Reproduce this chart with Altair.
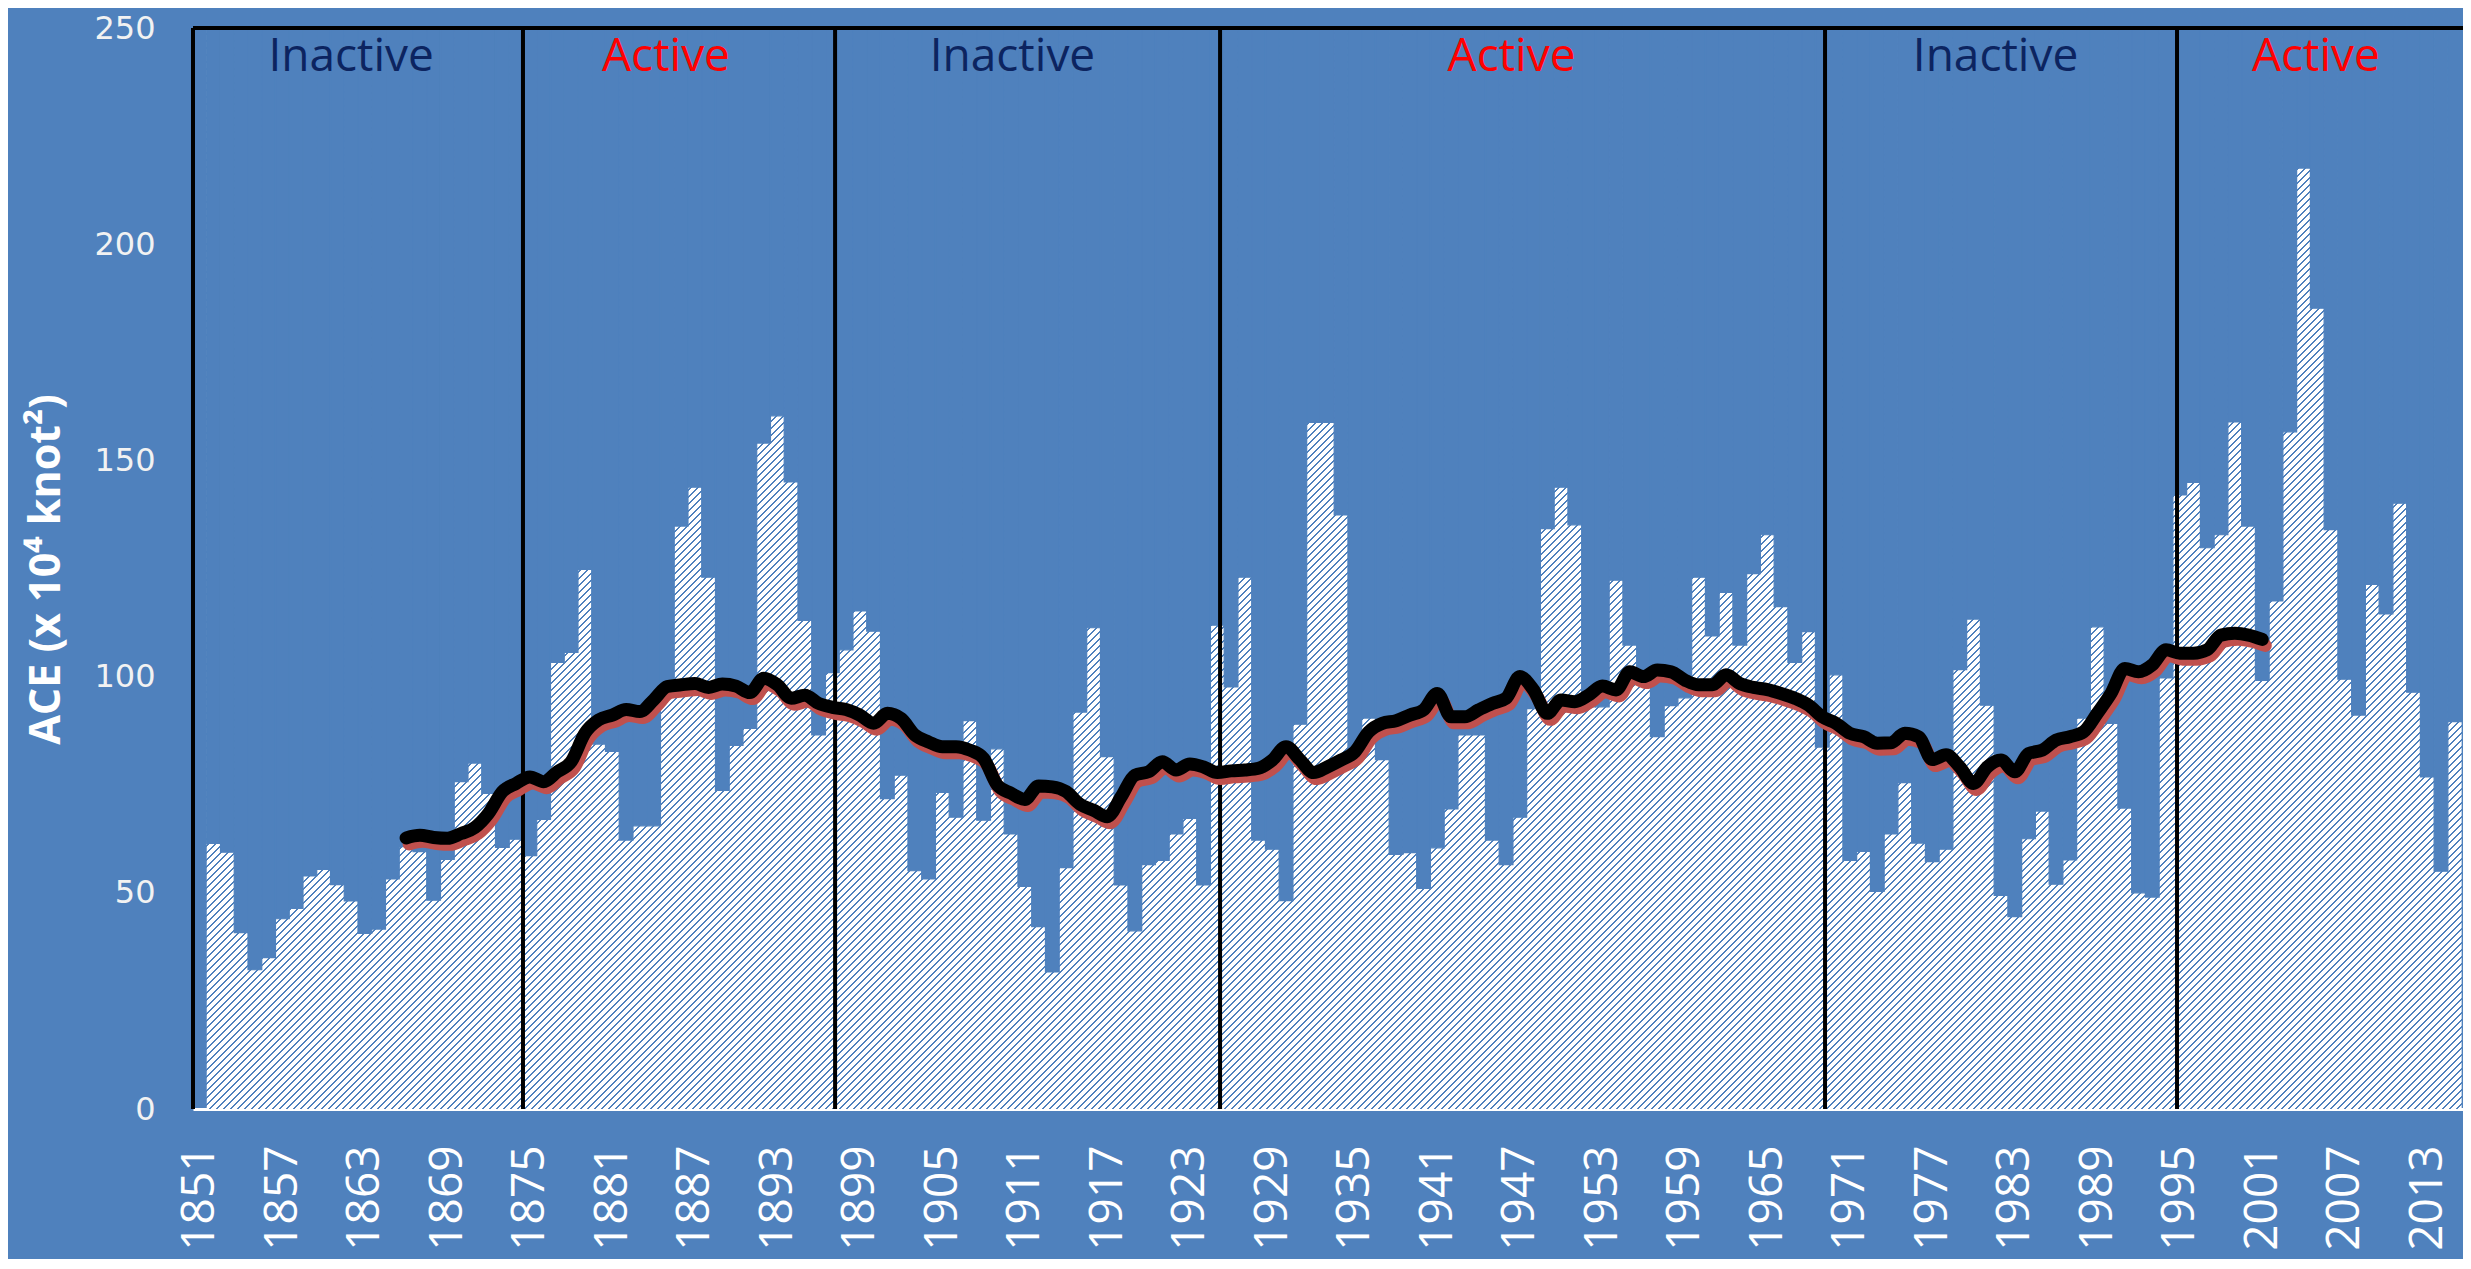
import math
import altair as alt
import pandas as pd

# ---------------- data ----------------
years = list(range(1851, 2016))
# 3-year running ACE (bars); 1851 has no bar
ace_3yr = [
    None, 61.4, 59.4, 40.8, 32.2, 35.0, 44.0, 46.4, 53.9, 55.4,      # 1851-1860
    51.9, 48.1, 40.6, 41.6, 53.2, 60.7, 59.5, 48.3, 57.7, 75.7,      # 1861-1870
    80.0, 73.0, 60.5, 62.4, 58.6, 67.0, 103.3, 105.6, 124.8, 84.4,   # 1871-1880
    82.7, 62.2, 65.5, 65.5, 96.0, 134.8, 143.8, 123.0, 73.7, 84.1,   # 1881-1890
    88.0, 154.0, 160.3, 145.0, 113.0, 86.5, 100.9, 106.2, 115.2, 110.5,  # 1891-1900
    71.8, 77.2, 55.1, 53.2, 73.2, 67.5, 89.8, 66.8, 83.3, 63.6,      # 1901-1910
    51.5, 42.2, 31.7, 55.8, 91.8, 111.3, 81.5, 51.8, 41.2, 56.5,     # 1911-1920
    57.5, 63.6, 67.2, 51.8, 111.9, 97.6, 123.0, 62.2, 60.1, 48.2,    # 1921-1930
    89.0, 158.8, 158.8, 137.4, 83.0, 90.4, 80.8, 58.9, 59.3, 51.0,   # 1931-1940
    60.4, 69.4, 86.5, 86.5, 62.2, 56.5, 67.5, 92.6, 134.2, 143.8,    # 1941-1950
    135.1, 93.0, 93.0, 122.3, 107.3, 99.0, 86.1, 93.3, 95.1, 123.0,  # 1951-1960
    109.4, 119.5, 107.3, 123.8, 132.8, 116.2, 103.3, 110.4, 83.7, 100.4,  # 1961-1970
    57.5, 59.6, 50.3, 63.6, 75.5, 61.5, 57.2, 60.1, 101.6, 113.3,    # 1971-1980
    93.4, 49.4, 44.5, 62.5, 68.9, 52.0, 57.6, 90.4, 111.5, 89.2,     # 1981-1990
    69.6, 50.0, 49.0, 99.7, 142.0, 144.9, 129.8, 132.8, 158.9, 134.8,  # 1991-2000
    99.1, 117.5, 156.6, 217.6, 185.2, 134.0, 99.4, 91.1, 121.3, 114.5,  # 2001-2010
    140.1, 96.4, 76.8, 55.0, 89.6,                                   # 2011-2015
]

# long running mean (black line)
mean_years = list(range(1866, 2002))
ace_mean = [
    62.7, 63.3, 62.8, 62.6, 63.7, 65.1, 68.4, 73.4, 75.3, 76.8,      # 1866-1875
    75.7, 78.0, 80.3, 86.9, 90.0, 91.1, 92.4, 91.9, 94.6, 97.7,      # 1876-1885
    98.1, 98.4, 97.5, 98.3, 97.8, 96.3, 99.6, 98.1, 95.0, 95.7,      # 1886-1895
    93.8, 92.9, 92.4, 91.1, 89.2, 91.5, 90.3, 86.5, 84.9, 83.8,      # 1896-1905
    83.8, 83.0, 81.1, 74.9, 73.0, 71.6, 74.7, 74.5, 73.4, 70.5,      # 1906-1915
    69.1, 67.6, 72.2, 77.2, 78.0, 80.3, 78.4, 79.8, 79.1, 77.8,      # 1916-1925
    78.2, 78.4, 78.8, 80.7, 83.8, 80.8, 77.8, 79.1, 80.7, 82.6,      # 1926-1935
    87.2, 89.2, 89.8, 91.1, 92.3, 96.1, 90.7, 90.7, 92.3, 93.8,      # 1936-1945
    95.0, 100.0, 96.9, 91.5, 94.6, 94.2, 95.7, 97.8, 96.9, 101.1,    # 1946-1955
    100.0, 101.5, 101.1, 99.2, 98.1, 98.1, 100.4, 98.4, 97.5, 97.0,  # 1956-1965
    96.1, 95.0, 93.4, 90.7, 89.2, 86.9, 86.1, 84.6, 84.7, 86.9,      # 1966-1975
    86.1, 80.8, 81.9, 79.1, 75.3, 79.1, 80.7, 78.0, 82.2, 83.0,      # 1976-1985
    85.3, 86.1, 87.2, 91.5, 96.1, 101.9, 101.1, 102.7, 106.2, 105.4,  # 1986-1995
    105.4, 106.2, 109.6, 110.0, 109.6, 108.6,                        # 1996-2001
]

divider_years = [1850.5, 1874.5, 1897.2, 1925.2, 1969.2, 1994.8]
period_labels = ["Inactive", "Active", "Inactive", "Active", "Inactive", "Active"]
period_label_x = [1862.0, 1884.9, 1910.1, 1946.4, 1981.6, 2004.9]
period_label_colors = ["#0C2460", "#FF0000", "#0C2460", "#FF0000", "#0C2460", "#FF0000"]
label_y = 240.1

x_ticks = list(range(1851, 2014, 6))
y_ticks = [0, 50, 100, 150, 200, 250]
y_title = "ACE (x 10\u2074 knot\u00b2)"

# ---------------- styling ----------------
W, H = 2270, 1081
X_DOMAIN = [1850.5, 2015.6]
Y_DOMAIN = [0, 250]
BG = "#4F81BD"
RED = "#C0504D"

# diagonal hatch ("/") as a striped linear gradient on one background rect
hatch_x0 = years[1] - 0.5
hatch_x1 = years[-1] + 0.5
px_per_year = W / (X_DOMAIN[1] - X_DOMAIN[0])
hw = (hatch_x1 - hatch_x0) * px_per_year
hh = float(H)
a = hw * (hw + hh) / (hw ** 2 + hh ** 2)
period = 7.0
blue_frac = 0.36
total = hw + hh
n_stripes = int(math.ceil(total / period))
stops = []
for k in range(n_stripes):
    o0 = min(1.0, k * period / total)
    o1 = min(1.0, (k + 1 - blue_frac) * period / total)
    o2 = min(1.0, (k + 1) * period / total)
    stops += [
        {"offset": round(o0, 6), "color": "#FFFFFF"},
        {"offset": round(o1, 6), "color": "#FFFFFF"},
        {"offset": round(o1, 6), "color": BG},
        {"offset": round(o2, 6), "color": BG},
    ]
hatch_fill = {"gradient": "linear", "x1": 0, "y1": 0, "x2": a, "y2": a * hh / hw, "stops": stops}

xscale = alt.Scale(domain=X_DOMAIN, nice=False, zero=False)
yscale = alt.Scale(domain=Y_DOMAIN, nice=False, zero=False)

xaxis = alt.Axis(
    values=x_ticks, format="d", title=None, labelAngle=270, labelAlign="right",
    labelBaseline="middle", labelFont="Open Sans", labelFontSize=46, labelColor="#FFFFFF",
    labelPadding=36, ticks=False, grid=False, domain=True, domainColor="#FFFFFF",
    domainWidth=3, labelFlush=False, labelOverlap=False,
)
yaxis = alt.Axis(
    values=y_ticks, title=y_title, ticks=False, grid=False, domain=False,
    labelFont="DejaVu Sans", labelFontSize=32, labelColor="#F2F2F2", labelPadding=38,
    labelFlush=False, labelOverlap=False,
    titleFont="Open Sans", titleFontSize=43, titleFontWeight="bold", titleColor="#FFFFFF",
    titleAngle=270, titleAlign="center", titleBaseline="middle", titleX=-147, titleY=541,
)

def X(f):
    return alt.X(f, type="quantitative", scale=xscale, axis=xaxis)

def Y(f):
    return alt.Y(f, type="quantitative", scale=yscale, axis=yaxis)

bars_df = pd.DataFrame({"year": years, "ace": ace_3yr})
line_df = pd.DataFrame({"year": mean_years, "ace": ace_mean})
div_df = pd.DataFrame({"x": divider_years, "y0": [Y_DOMAIN[0]] * len(divider_years),
                       "y1": [Y_DOMAIN[1]] * len(divider_years)})
lab_df = pd.DataFrame({"x": period_label_x, "y": [label_y] * len(period_labels),
                       "label": period_labels, "color": period_label_colors})
hatch_df = pd.DataFrame({"x0": [hatch_x0], "x1": [hatch_x1], "y0": [Y_DOMAIN[0]], "y1": [Y_DOMAIN[1]]})
top_df = pd.DataFrame({"x0": [X_DOMAIN[0]], "x1": [X_DOMAIN[1]], "y": [Y_DOMAIN[1]]})

hatch = alt.Chart(hatch_df).mark_rect(fill=hatch_fill, strokeWidth=0).encode(
    x=X("x0"), x2="x1", y=Y("y0"), y2="y1"
)

# blue area above each bar top leaves the hatched bar visible below it
sky = alt.Chart(bars_df).transform_filter(
    "datum.ace != null"
).transform_calculate(
    x0="datum.year - 0.5", x1="datum.year + 0.5", top=str(Y_DOMAIN[1])
).mark_rect(fill=BG, stroke=BG, strokeWidth=1.2).encode(
    x=X("x0"), x2="x1", y=Y("ace"), y2="top"
)

dividers = alt.Chart(div_df).mark_rule(color="#000000", strokeWidth=4).encode(
    x=X("x"), y=Y("y0"), y2="y1"
)

top_rule = alt.Chart(top_df).mark_rule(color="#000000", strokeWidth=4).encode(
    x=X("x0"), x2="x1", y=Y("y")
)

shadow = alt.Chart(line_df).mark_line(
    color=RED, strokeWidth=13, interpolate="monotone", strokeCap="round",
    strokeJoin="round", xOffset=3, yOffset=6
).encode(x=X("year"), y=Y("ace"))

mean_line = alt.Chart(line_df).mark_line(
    color="#000000", strokeWidth=13, interpolate="monotone", strokeCap="round",
    strokeJoin="round"
).encode(x=X("year"), y=Y("ace"))

labels = alt.Chart(lab_df).mark_text(
    font="Open Sans", fontSize=46, align="center", baseline="alphabetic"
).encode(
    x=X("x"), y=Y("y"), text="label:N", color=alt.Color("color:N", scale=None)
)

chart = alt.layer(hatch, sky, dividers, top_rule, shadow, mean_line, labels).properties(
    width=W, height=H,
    padding={"left": 185, "top": 20, "right": 0, "bottom": 150},
    autosize=alt.AutoSizeParams(type="none"),
).configure(background=BG).configure_view(stroke=None)

chart.save("out.html", embed_options={"renderer": "svg", "actions": False})
